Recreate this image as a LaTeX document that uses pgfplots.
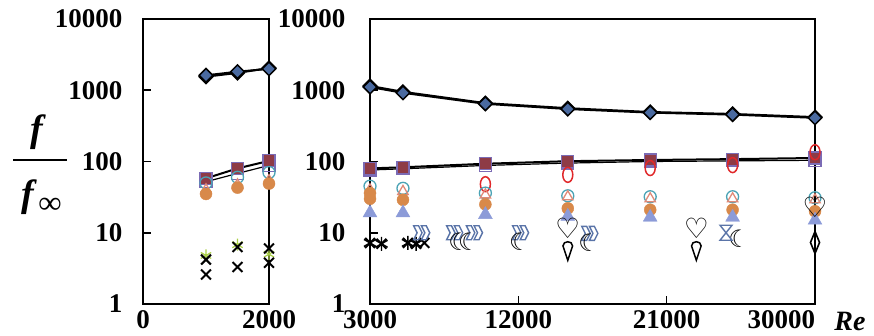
\documentclass[border=0pt]{standalone}
\usepackage{pgfplots}
\pgfplotsset{compat=1.18}
\usepackage{fontspec}
\setmainfont{Liberation Serif}
\newfontfamily\djv{DejaVu Sans}
\definecolor{dblue}{HTML}{4A6AA0}
\definecolor{sqred}{HTML}{8E3B46}
\definecolor{sqpur}{HTML}{7B6BB5}
\definecolor{ored}{HTML}{E0282A}
\definecolor{teal2}{HTML}{4BA3B5}
\definecolor{salmon}{HTML}{E08A78}
\definecolor{orng}{HTML}{D8894A}
\definecolor{ltblue}{HTML}{8C9BD8}
\definecolor{lgreen}{HTML}{A9CF45}
\definecolor{slate}{HTML}{5A74A8}

\pgfdeclareplotmark{chev}{%
  \pgfpathmoveto{\pgfqpoint{-1.3\pgfplotmarksize}{\pgfplotmarksize}}%
  \pgfpathlineto{\pgfqpoint{-0.6\pgfplotmarksize}{\pgfplotmarksize}}%
  \pgfpathlineto{\pgfqpoint{-0.1\pgfplotmarksize}{0pt}}%
  \pgfpathlineto{\pgfqpoint{-0.6\pgfplotmarksize}{-\pgfplotmarksize}}%
  \pgfpathlineto{\pgfqpoint{-1.3\pgfplotmarksize}{-\pgfplotmarksize}}%
  \pgfpathlineto{\pgfqpoint{-0.8\pgfplotmarksize}{0pt}}%
  \pgfpathclose
  \pgfpathmoveto{\pgfqpoint{-0.2\pgfplotmarksize}{\pgfplotmarksize}}%
  \pgfpathlineto{\pgfqpoint{0.5\pgfplotmarksize}{\pgfplotmarksize}}%
  \pgfpathlineto{\pgfqpoint{1.0\pgfplotmarksize}{0pt}}%
  \pgfpathlineto{\pgfqpoint{0.5\pgfplotmarksize}{-\pgfplotmarksize}}%
  \pgfpathlineto{\pgfqpoint{-0.2\pgfplotmarksize}{-\pgfplotmarksize}}%
  \pgfpathlineto{\pgfqpoint{0.3\pgfplotmarksize}{0pt}}%
  \pgfpathclose
  \pgfusepathqstroke}
\pgfdeclareplotmark{hourglass}{%
  \pgfpathmoveto{\pgfqpoint{-0.8\pgfplotmarksize}{\pgfplotmarksize}}%
  \pgfpathlineto{\pgfqpoint{0.8\pgfplotmarksize}{\pgfplotmarksize}}%
  \pgfpathlineto{\pgfqpoint{-0.8\pgfplotmarksize}{-\pgfplotmarksize}}%
  \pgfpathlineto{\pgfqpoint{0.8\pgfplotmarksize}{-\pgfplotmarksize}}%
  \pgfpathclose
  \pgfusepathqstroke}
\pgfdeclareplotmark{drop}{%
  \pgfpathmoveto{\pgfqpoint{0pt}{-1.6\pgfplotmarksize}}%
  \pgfpathlineto{\pgfqpoint{-0.6\pgfplotmarksize}{0.2\pgfplotmarksize}}%
  \pgfpathcurveto{\pgfqpoint{-0.6\pgfplotmarksize}{0.9\pgfplotmarksize}}{\pgfqpoint{0.6\pgfplotmarksize}{0.9\pgfplotmarksize}}{\pgfqpoint{0.6\pgfplotmarksize}{0.2\pgfplotmarksize}}%
  \pgfpathclose
  \pgfusepathqstroke}

\pgfplotsset{
  myaxis/.style={
    scale only axis, ymin=1, ymax=10000,
    ytick={1,10,100,1000,10000}, yticklabels={1,10,100,1000,10000},
    yminorticks=false,
    axis line style={line width=1.6pt},
    every tick/.style={black, line width=1.6pt},
    major tick length=8pt,
    tick align=inside,
    tick label style={font=\fontsize{27}{27}\selectfont\bfseries},
    xticklabel style={yshift=-3pt},
    ytick pos=left, xtick pos=bottom,
    clip=false,
  },
  sDia/.style={black, line width=2pt, mark=square*, mark size=4.8pt,
    mark options={rotate=45, fill=dblue, draw=black, line width=1.5pt, solid}},
  sSqf/.style={black, line width=2pt, mark=square*, mark size=6pt,
    mark options={fill=sqred, draw=sqpur, line width=1.2pt, solid}},
  sSqo/.style={black, line width=1.2pt, mark=square, mark size=6pt,
    mark options={draw=sqpur, line width=1.2pt, solid}},
  sRedo/.style={only marks, mark=o, mark size=5pt,
    mark options={draw=ored, line width=1.5pt, yscale=1.5}},
  sTealo/.style={only marks, mark=o, mark size=6pt,
    mark options={draw=teal2, line width=1.3pt}},
  sSalt/.style={only marks, mark=triangle, mark size=6pt,
    mark options={draw=salmon, line width=1.3pt}},
  sOrf/.style={only marks, mark=*, mark size=6pt,
    mark options={fill=orng, draw=orng}},
  sBlt/.style={only marks, mark=triangle*, mark size=8pt,
    mark options={fill=ltblue, draw=ltblue}},
  sXk/.style={only marks, mark=x, mark size=7pt,
    mark options={draw=black, line width=2pt}},
  sAst/.style={only marks, mark=asterisk, mark size=7pt,
    mark options={draw=black, line width=1.4pt}},
  sGast/.style={only marks, mark=asterisk, mark size=6pt,
    mark options={draw=lgreen, line width=1.2pt}},
}

\begin{document}
\begin{tikzpicture}[x=1pt,y=1pt]
% ---------------- left panel
\begin{semilogyaxis}[myaxis, at={(143pt,32pt)}, anchor=south west, width=126pt, height=285pt,
  yticklabel style={xshift=-17pt},
  xmin=0, xmax=2000, xtick={0,2000}, xticklabels={0,2000}]
\addplot[sDia] coordinates {(1000,1550) (1500,1750) (2000,2050)};
\addplot[sDia] coordinates {(1000,1620) (1500,1820) (2000,2000)};
\addplot[sSqo] coordinates {(1000,52) (1500,68) (2000,88)};
\addplot[sSqf] coordinates {(1000,58) (1500,80) (2000,102)};
\addplot[sTealo] coordinates {(1000,50) (1500,60) (2000,70)};
\addplot[sSalt] coordinates {(1000,40) (1500,47) (2000,54)};
\addplot[sOrf] coordinates {(1000,35) (1500,43) (2000,49)};
\addplot[sGast] coordinates {(1000,4.8) (1500,6.8) (2000,5.0)};
\addplot[sXk] coordinates {(1000,4.2) (1000,2.6) (1500,6.3) (1500,3.3) (2000,6.0) (2000,3.8)};
\end{semilogyaxis}
% ---------------- right panel
\begin{semilogyaxis}[myaxis, at={(370pt,32pt)}, anchor=south west, width=445pt, height=285pt,
  yticklabel style={xshift=-21pt},
  xmin=3000, xmax=30000, xtick={3000,12000,21000,30000},
  xticklabels={3000,12000,21000,{\hbox to 0pt{\hss 30000}}}]
\addplot[sDia] coordinates {(3000,1150) (5000,950) (10000,660) (15000,560) (20000,495) (25000,465) (30000,420)};
\addplot[sDia] coordinates {(3000,1110) (5000,920) (10000,645) (15000,545) (20000,485) (25000,455) (30000,410)};
\addplot[sSqo] coordinates {(3000,76) (5000,79) (10000,88) (15000,95) (20000,100) (25000,102) (30000,104)};
\addplot[sSqf] coordinates {(3000,80) (5000,83) (10000,93) (15000,101) (20000,105) (25000,108) (30000,112)};
\addplot[sRedo] coordinates {(10000,48) (15000,65) (20000,81) (25000,89) (30000,135)};
\addplot[sTealo] coordinates {(3000,45) (5000,42) (10000,36) (15000,33) (20000,32) (25000,32) (30000,31)};
\addplot[sSalt] coordinates {(3000,40) (5000,38) (10000,34) (15000,32) (20000,30) (25000,30) (30000,29)};
\addplot[sOrf] coordinates {(3000,36) (3000,30) (5000,29) (10000,25) (15000,22) (20000,21) (25000,21) (30000,20)};
\addplot[sBlt] coordinates {(3000,19) (5000,19) (10000,18) (15000,17) (20000,16.5) (25000,16.5) (30000,15)};
\addplot[sXk] coordinates {(3000,7.2) (3700,7.0) (5300,7.2) (5800,7.0) (6300,7.2)};
\addplot[sAst] coordinates {(3000,7.2) (3700,7.0) (5300,7.2) (5800,7.0)};
\addplot[only marks, mark=chev, mark size=7pt, mark options={draw=slate, line width=1.4pt}]
  coordinates {(6200,10) (8200,10) (9400,10) (12200,10) (16400,9.8)};
\addplot[only marks, mark=text, text mark={\fontsize{24}{24}\selectfont\djv ☾}]
  coordinates {(8400,7.6) (9000,7.6) (12100,7.6) (16300,7.3) (25400,8.2)};
\addplot[only marks, mark=hourglass, mark size=7.5pt, mark options={draw=slate, line width=1.4pt}]
  coordinates {(24600,10)};
\addplot[only marks, mark=drop, mark size=8pt, mark options={draw=black, line width=1.5pt}]
  coordinates {(15000,6.2) (22800,6.2)};
\addplot[only marks, mark=diamond, mark size=11pt, mark options={draw=black, line width=1.6pt, xscale=0.55}]
  coordinates {(30000,7.3)};
\addplot[only marks, mark=text, text mark={\fontsize{28}{28}\selectfont\djv\bfseries ♡}]
  coordinates {(15000,11.5) (22800,11.5) (30000,23)};
\end{semilogyaxis}
% ---------------- axis titles
\node[font=\fontsize{38}{38}\selectfont\bfseries\itshape] at (37,204) {f};
\draw[line width=2.2pt] (13,176) -- (67,176);
\node[font=\fontsize{38}{38}\selectfont\bfseries\itshape] at (28,139) {f};
\node[font=\fontsize{32}{32}\selectfont\bfseries] at (50,130) {∞};
\node[font=\fontsize{28}{28}\selectfont\bfseries\itshape] at (850,15) {Re};
\pgfresetboundingbox
\path[use as bounding box] (0,0) rectangle (874,336);
\end{tikzpicture}
\end{document}
